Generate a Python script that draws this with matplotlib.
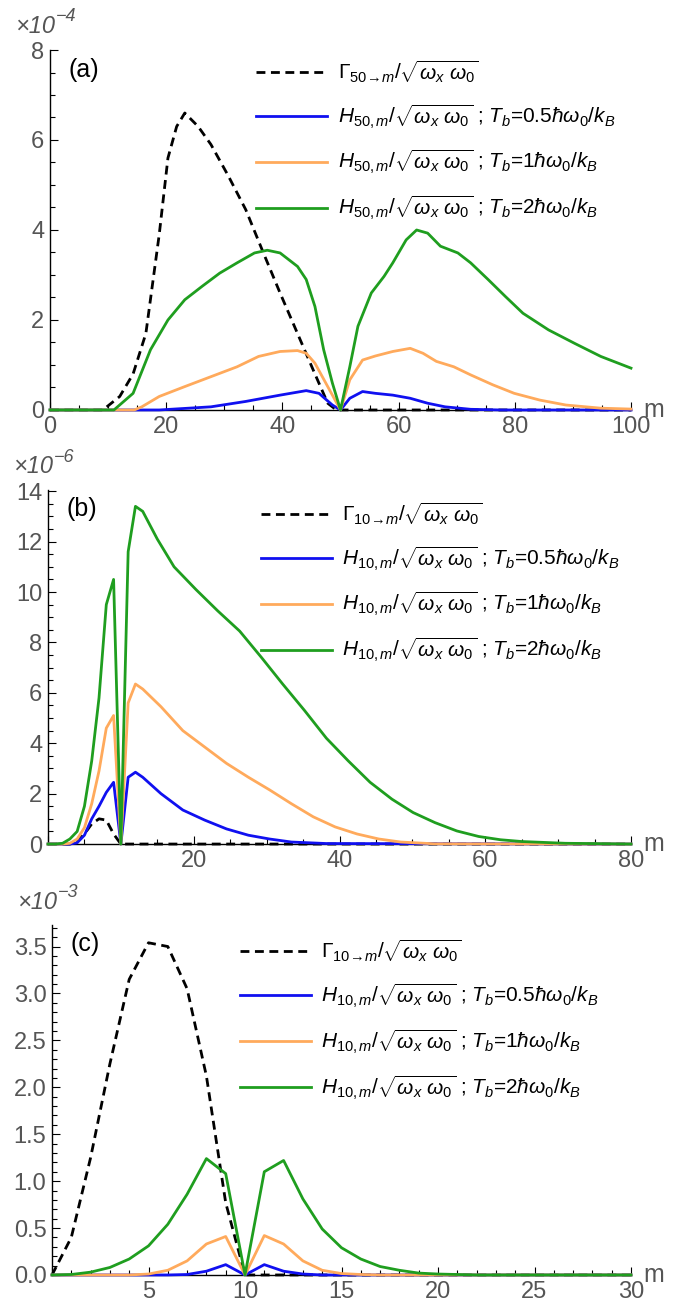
import numpy as np
import matplotlib
matplotlib.use("Agg")
import matplotlib.pyplot as plt
from matplotlib.ticker import MultipleLocator, FuncFormatter

plt.rcParams['font.family'] = ['Liberation Sans', 'DejaVu Sans']
plt.rcParams['mathtext.fontset'] = 'custom'
plt.rcParams['mathtext.rm'] = 'Liberation Sans'
plt.rcParams['mathtext.it'] = 'Liberation Sans:italic'
plt.rcParams['mathtext.bf'] = 'Liberation Sans:bold'

# ---------------- panel (a): n = 50, values in units of 1e-4 ----------------
a_gam_m = [0, 9.1, 12, 14.3, 16.5, 18.8, 20.3, 21.8, 23.2, 25.5, 27.7, 30.7, 33.7,
           36.7, 39.6, 42.6, 45.6, 47.8, 49.3, 50, 100]
a_gam = [0, 0, 0.3, 0.8, 1.7, 3.9, 5.6, 6.3, 6.6, 6.3, 5.9, 5.2, 4.45,
         3.5, 2.6, 1.7, 0.8, 0.15, 0, 0, 0]

a_h2_m = [0, 11, 14.3, 17.3, 20.3, 23.2, 26.2, 29.2, 32.2, 35.2, 37.4, 39.6, 42.6, 44.1,
          45.6, 47.1, 48.6, 50, 51.6, 53, 55.3, 57.5, 59, 61.3, 63.1, 65, 67.2, 70.2,
          72.4, 75.4, 78.4, 81.4, 85.8, 90.3, 94.8, 100]
a_h2 = [0, 0, 0.37, 1.34, 2.0, 2.45, 2.75, 3.04, 3.27, 3.49, 3.55, 3.49, 3.19, 2.9,
        2.3, 1.34, 0.6, 0, 0.96, 1.86, 2.6, 2.97, 3.27, 3.78, 4.0, 3.93, 3.64, 3.49,
        3.27, 2.9, 2.52, 2.15, 1.78, 1.48, 1.19, 0.93]

a_h1_m = [0, 14.5, 15.8, 18.8, 23.2, 27.7, 32.2, 35.9, 39.6, 42.6, 44.1, 45.6, 47.8, 50,
          51.6, 53.8, 56, 59, 62, 64.2, 66.5, 69.5, 72.4, 76.2, 79.9, 84.3, 88.8, 94.8, 100]
a_h1 = [0, 0, 0.07, 0.3, 0.52, 0.74, 0.96, 1.19, 1.3, 1.32, 1.26, 1.04, 0.52, 0,
        0.67, 1.11, 1.2, 1.3, 1.37, 1.26, 1.08, 0.96, 0.78, 0.56, 0.37, 0.22, 0.11, 0.04, 0.02]

a_h05_m = [0, 18.8, 27.7, 33.7, 39.6, 44.1, 46.3, 48.6, 50, 51.6, 53.8, 56, 59, 62, 65,
           68, 72.4, 77.6, 100]
a_h05 = [0, 0, 0.07, 0.19, 0.33, 0.43, 0.37, 0.11, 0, 0.26, 0.41, 0.37, 0.33, 0.26, 0.15,
         0.07, 0.015, 0, 0]

# ---------------- panel (b): n = 10, values in units of 1e-6 ----------------
b_m = [0, 1, 2, 3, 4, 5, 6, 7, 8, 9, 10, 11, 12, 13]
b_gam_head = [0, 0, 0, 0, 0.1, 0.4, 0.8, 1.0, 0.95, 0.4, 0, 0, 0, 0]
b_h2_head = [0, 0, 0.03, 0.2, 0.5, 1.5, 3.3, 5.8, 9.5, 10.5, 0, 11.6, 13.4, 13.2]
b_h1_head = [0, 0, 0, 0.03, 0.2, 0.65, 1.6, 2.9, 4.6, 5.1, 0, 5.6, 6.35, 6.15]
b_h05_head = [0, 0, 0, 0, 0.05, 0.35, 1.0, 1.5, 2.05, 2.45, 0, 2.65, 2.85, 2.65]

b_h2_tail_m = [15, 17.3, 20.3, 23.3, 26.3, 29.3, 32.2, 35.2, 38.2, 41.2, 44.2, 47.2, 50.1,
               53.1, 56.1, 59.1, 62.1, 65, 71, 80]
b_h2_tail = [12.1, 11.0, 10.1, 9.25, 8.45, 7.4, 6.35, 5.3, 4.2, 3.3, 2.45, 1.78, 1.25,
             0.85, 0.52, 0.3, 0.17, 0.1, 0.03, 0]
b_h1_tail_m = [15.5, 18.5, 21.5, 24.5, 27.5, 30.4, 33.4, 36.4, 39.4, 42.4, 45.4, 48.4, 53, 80]
b_h1_tail = [5.45, 4.5, 3.85, 3.2, 2.65, 2.15, 1.6, 1.08, 0.68, 0.4, 0.2, 0.08, 0.01, 0]
b_h05_tail_m = [15.5, 18.5, 21.5, 24.5, 27.5, 30.4, 33.4, 38.2, 80]
b_h05_tail = [2.0, 1.35, 0.95, 0.6, 0.35, 0.2, 0.08, 0.02, 0]
b_gam_tail_m = [80]
b_gam_tail = [0]

# ---------------- panel (c): n = 10, values in units of 1e-3 ----------------
c_m = list(range(0, 31))
c_gam = [0, 0.4, 1.25, 2.25, 3.15, 3.54, 3.5, 3.05, 2.12, 0.77, 0,
         0, 0, 0, 0, 0, 0, 0, 0, 0, 0, 0, 0, 0, 0, 0, 0, 0, 0, 0, 0]
c_h2 = [0, 0.005, 0.03, 0.08, 0.17, 0.31, 0.54, 0.86, 1.24, 1.08, 0,
        1.1, 1.22, 0.81, 0.49, 0.29, 0.17, 0.09, 0.05, 0.02, 0.01, 0.005,
        0, 0, 0, 0, 0, 0, 0, 0, 0]
c_h1 = [0, 0, 0, 0, 0, 0.01, 0.05, 0.15, 0.33, 0.41, 0,
        0.42, 0.33, 0.15, 0.05, 0.015, 0.005, 0, 0, 0, 0,
        0, 0, 0, 0, 0, 0, 0, 0, 0, 0]
c_h05 = [0, 0, 0, 0, 0, 0, 0, 0.005, 0.04, 0.11, 0,
         0.11, 0.04, 0.01, 0, 0, 0, 0, 0, 0, 0,
         0, 0, 0, 0, 0, 0, 0, 0, 0, 0]

blue = '#1010f0'
orange = '#ffaa5c'
green = '#1f9e1f'
tick_col = '#555555'

def labels(n):
    sq = r'/\sqrt{\omega_x\ \omega_0}'
    gam = r'$\Gamma_{%d\!\rightarrow\!m}%s$' % (n, sq)
    h = r'$H_{%d,m}%s$ ; ' % (n, sq)
    return [gam,
            h + r'$T_b$=0.5$\hbar\omega_0/k_B$',
            h + r'$T_b$=1$\hbar\omega_0/k_B$',
            h + r'$T_b$=2$\hbar\omega_0/k_B$']

def style(ax, xmax, ymax, xmaj, xmin, ymaj, ymin, fmt, show_x0, tag, exp, leg_x, leg_y):
    ax.set_xlim(0, xmax)
    ax.set_ylim(0, ymax)
    for s in ['top', 'right']:
        ax.spines[s].set_visible(False)
    for s in ['left', 'bottom']:
        ax.spines[s].set_linewidth(1.0)
    ax.xaxis.set_major_locator(MultipleLocator(xmaj))
    ax.xaxis.set_minor_locator(MultipleLocator(xmin))
    ax.yaxis.set_major_locator(MultipleLocator(ymaj))
    ax.yaxis.set_minor_locator(MultipleLocator(ymin))
    ax.tick_params(which='both', direction='in', colors='black', labelcolor=tick_col,
                   labelsize=17, width=0.8)
    ax.tick_params(which='major', length=6, pad=4)
    ax.tick_params(which='minor', length=3.5)
    ax.xaxis.set_major_formatter(FuncFormatter(
        lambda v, p: ('' if (v == 0 and not show_x0) else '%d' % v)))
    ax.yaxis.set_major_formatter(FuncFormatter(lambda v, p: fmt % v))
    ax.text(1.022, 0.0, 'm', transform=ax.transAxes, fontsize=18, color=tick_col,
            ha='left', va='center')
    ax.text(0.058, 0.945, tag, transform=ax.transAxes, fontsize=18, ha='center',
            va='center')
    # "×10^-n" multiplier above the y axis
    ax.annotate('×10', xy=(-0.06, 1.065), xycoords='axes fraction', fontsize=17,
                style='italic', color=tick_col, ha='left', va='center')
    ax.annotate('−%d' % exp, xy=(-0.06, 1.065), xycoords='axes fraction',
                xytext=(29.5, 7), textcoords='offset points', fontsize=13,
                style='italic', color=tick_col, ha='left', va='center')
    ax.legend(loc='center left', bbox_to_anchor=(leg_x, leg_y), frameon=False,
              fontsize=15, handlelength=3.4, handletextpad=0.5, labelspacing=0.85,
              borderpad=0, borderaxespad=0)

fig = plt.figure(figsize=(6.82, 13.09), dpi=100)

lw = 2.0
kw = dict(lw=lw, clip_on=False, zorder=3, solid_joinstyle='round')
dash = (0, (3.2, 2))
# (a)
ax1 = fig.add_axes([50 / 682, 0.6868, 581 / 682, 0.275])
lab = labels(50)
ax1.plot(a_gam_m, a_gam, color='black', ls=dash, label=lab[0], **kw)
ax1.plot(a_h05_m, a_h05, color=blue, label=lab[1], **kw)
ax1.plot(a_h1_m, a_h1, color=orange, label=lab[2], **kw)
ax1.plot(a_h2_m, a_h2, color=green, label=lab[3], **kw)
style(ax1, 100, 8, 20, 5, 2, 0.5, '%d', True, '(a)', 4, 0.355, 0.75)

# (b)
ax2 = fig.add_axes([48 / 682, 0.3552, 583 / 682, 0.2705])
lab = labels(10)
ax2.plot(b_m + b_gam_tail_m, b_gam_head + b_gam_tail, color='black', ls=dash,
         label=lab[0], **kw)
ax2.plot(b_m + b_h05_tail_m, b_h05_head + b_h05_tail, color=blue, label=lab[1], **kw)
ax2.plot(b_m + b_h1_tail_m, b_h1_head + b_h1_tail, color=orange, label=lab[2], **kw)
ax2.plot(b_m + b_h2_tail_m, b_h2_head + b_h2_tail, color=green, label=lab[3], **kw)
style(ax2, 80, 14.05, 20, 5, 2, 0.5, '%d', False, '(b)', 6, 0.365, 0.74)

# (c)
ax3 = fig.add_axes([52 / 682, 0.026, 579 / 682, 0.2674])
lab = labels(10)
ax3.plot(c_m, c_gam, color='black', ls=dash, label=lab[0], **kw)
ax3.plot(c_m, c_h05, color=blue, label=lab[1], **kw)
ax3.plot(c_m, c_h1, color=orange, label=lab[2], **kw)
ax3.plot(c_m, c_h2, color=green, label=lab[3], **kw)
style(ax3, 30, 3.73, 5, 1, 0.5, 0.1, '%.1f', False, '(c)', 3, 0.325, 0.73)

fig.savefig('out.png', dpi=100)
